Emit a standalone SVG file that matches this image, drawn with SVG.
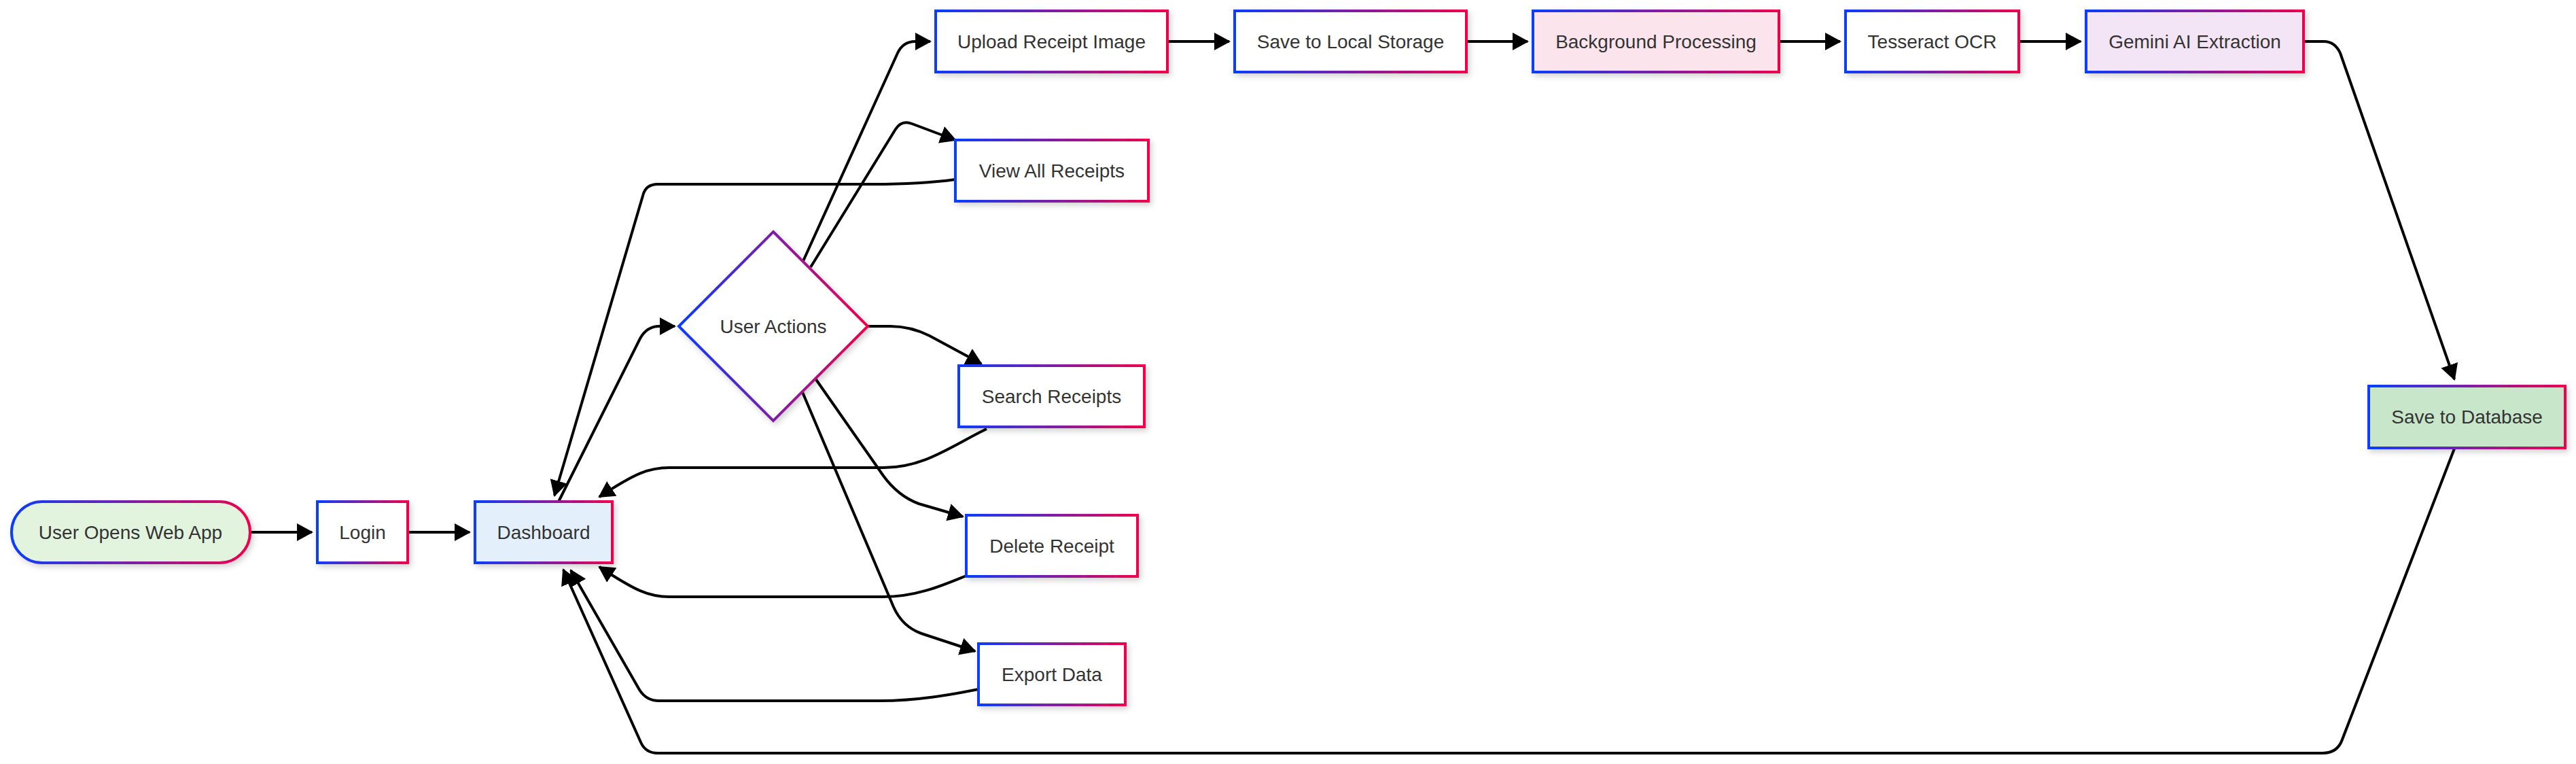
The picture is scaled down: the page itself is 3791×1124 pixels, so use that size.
<svg xmlns="http://www.w3.org/2000/svg" width="3791" height="1124" viewBox="0 0 3791 1124">
<defs>
<linearGradient id="grad" x1="0" y1="0" x2="1" y2="0">
<stop offset="0" stop-color="#0a3cff"/>
<stop offset="1" stop-color="#f0004c"/>
</linearGradient>
<filter id="shadow" x="-10%" y="-10%" width="130%" height="140%">
<feDropShadow dx="3" dy="4" stdDeviation="4" flood-color="#000" flood-opacity="0.18"/>
</filter>
<marker id="arr" markerUnits="userSpaceOnUse" markerWidth="24" markerHeight="26" viewBox="0 0 24 26" refX="22" refY="13" orient="auto">
<path d="M0,0 L24,13 L0,26 z" fill="#000"/>
</marker>
</defs>
<style>
.node { stroke: url(#grad); stroke-width: 4; filter: url(#shadow); }
.lbl { font-family: "Liberation Sans", Arial, sans-serif; font-size: 28px; fill: #333; text-anchor: middle; dominant-baseline: central; }
.edge { fill: none; stroke: #000; stroke-width: 4; marker-end: url(#arr); }
</style>
<rect width="3791" height="1124" fill="#fff"/>
<g id="connectors">
<path class="edge" d="M368,783 L459,783"/>
<path class="edge" d="M600,783 L691,783"/>
<path class="edge" d="M822,738 L942,498 Q952,480 970,480 L993,480"/>
<path class="edge" d="M1182,384 L1321,78 Q1329,61 1347,61 L1369,61"/>
<path class="edge" d="M1193,393 L1318,190 Q1327,176 1342,182 L1406,206"/>
<path class="edge" d="M1277,480 L1310,480 Q1340,480 1368,494 L1444,535"/>
<path class="edge" d="M1200,557 L1300,700 Q1322,730 1352,741 L1417,760"/>
<path class="edge" d="M1181,577 L1315,893 Q1328,922 1356,932 L1435,958"/>
<path class="edge" d="M1718,61 L1809,61"/>
<path class="edge" d="M2158,61 L2248,61"/>
<path class="edge" d="M2618,61 L2708,61"/>
<path class="edge" d="M2971,61 L3062,61"/>
<path class="edge" d="M3390,61 L3420,61 Q3436,61 3444,78 L3612,558"/>
<path class="edge" d="M1406,264 C1370,269 1320,271 1285,271 L968,271 Q950,271 946,288 L816,729"/>
<path class="edge" d="M1452,631 C1400,656 1360,688 1300,688 L985,688 C955,688 935,696 882,731"/>
<path class="edge" d="M1422,847 C1390,860 1350,878 1300,878 L985,878 C955,878 935,869 882,834"/>
<path class="edge" d="M1440,1014 C1400,1022 1350,1031 1295,1031 L970,1031 Q950,1031 940,1013 L840,839"/>
<path class="edge" d="M3612,660 L3447,1088 Q3440,1108 3418,1108 L968,1108 Q950,1108 943,1092 L829,838"/>
</g>
<g id="node-start">
<rect class="node" x="17" y="738" width="351" height="90" rx="45" ry="45" fill="#e2f4de"/>
<text class="lbl" x="192" y="783">User Opens Web App</text>
</g>
<g id="node-login">
<rect class="node" x="467" y="738" width="133" height="90" fill="#ffffff"/>
<text class="lbl" x="533.5" y="783">Login</text>
</g>
<g id="node-dashboard">
<rect class="node" x="699" y="738" width="202" height="90" fill="#e3f0fb"/>
<text class="lbl" x="800" y="783">Dashboard</text>
</g>
<g id="node-actions">
<polygon class="node" points="1138,341 1277,480 1138,619 999,480" fill="#ffffff"/>
<text class="lbl" x="1138" y="480">User Actions</text>
</g>
<g id="node-upload">
<rect class="node" x="1377" y="16" width="341" height="90" fill="#ffffff"/>
<text class="lbl" x="1547.5" y="61">Upload Receipt Image</text>
</g>
<g id="node-local">
<rect class="node" x="1817" y="16" width="341" height="90" fill="#ffffff"/>
<text class="lbl" x="1987.5" y="61">Save to Local Storage</text>
</g>
<g id="node-background">
<rect class="node" x="2256" y="16" width="362" height="90" fill="#fce4ec"/>
<text class="lbl" x="2437" y="61">Background Processing</text>
</g>
<g id="node-tesseract">
<rect class="node" x="2716" y="16" width="255" height="90" fill="#ffffff"/>
<text class="lbl" x="2843.5" y="61">Tesseract OCR</text>
</g>
<g id="node-gemini">
<rect class="node" x="3070" y="16" width="320" height="90" fill="#f3e5f5"/>
<text class="lbl" x="3230" y="61">Gemini AI Extraction</text>
</g>
<g id="node-database">
<rect class="node" x="3486" y="568" width="289" height="91" fill="#c8e6c9"/>
<text class="lbl" x="3630.5" y="613.5">Save to Database</text>
</g>
<g id="node-view">
<rect class="node" x="1406" y="206" width="284" height="90" fill="#ffffff"/>
<text class="lbl" x="1548" y="251">View All Receipts</text>
</g>
<g id="node-search">
<rect class="node" x="1411" y="538" width="273" height="90" fill="#ffffff"/>
<text class="lbl" x="1547.5" y="583">Search Receipts</text>
</g>
<g id="node-delete">
<rect class="node" x="1422" y="758" width="252" height="90" fill="#ffffff"/>
<text class="lbl" x="1548" y="803">Delete Receipt</text>
</g>
<g id="node-export">
<rect class="node" x="1440" y="947" width="216" height="90" fill="#ffffff"/>
<text class="lbl" x="1548" y="992">Export Data</text>
</g>
</svg>
